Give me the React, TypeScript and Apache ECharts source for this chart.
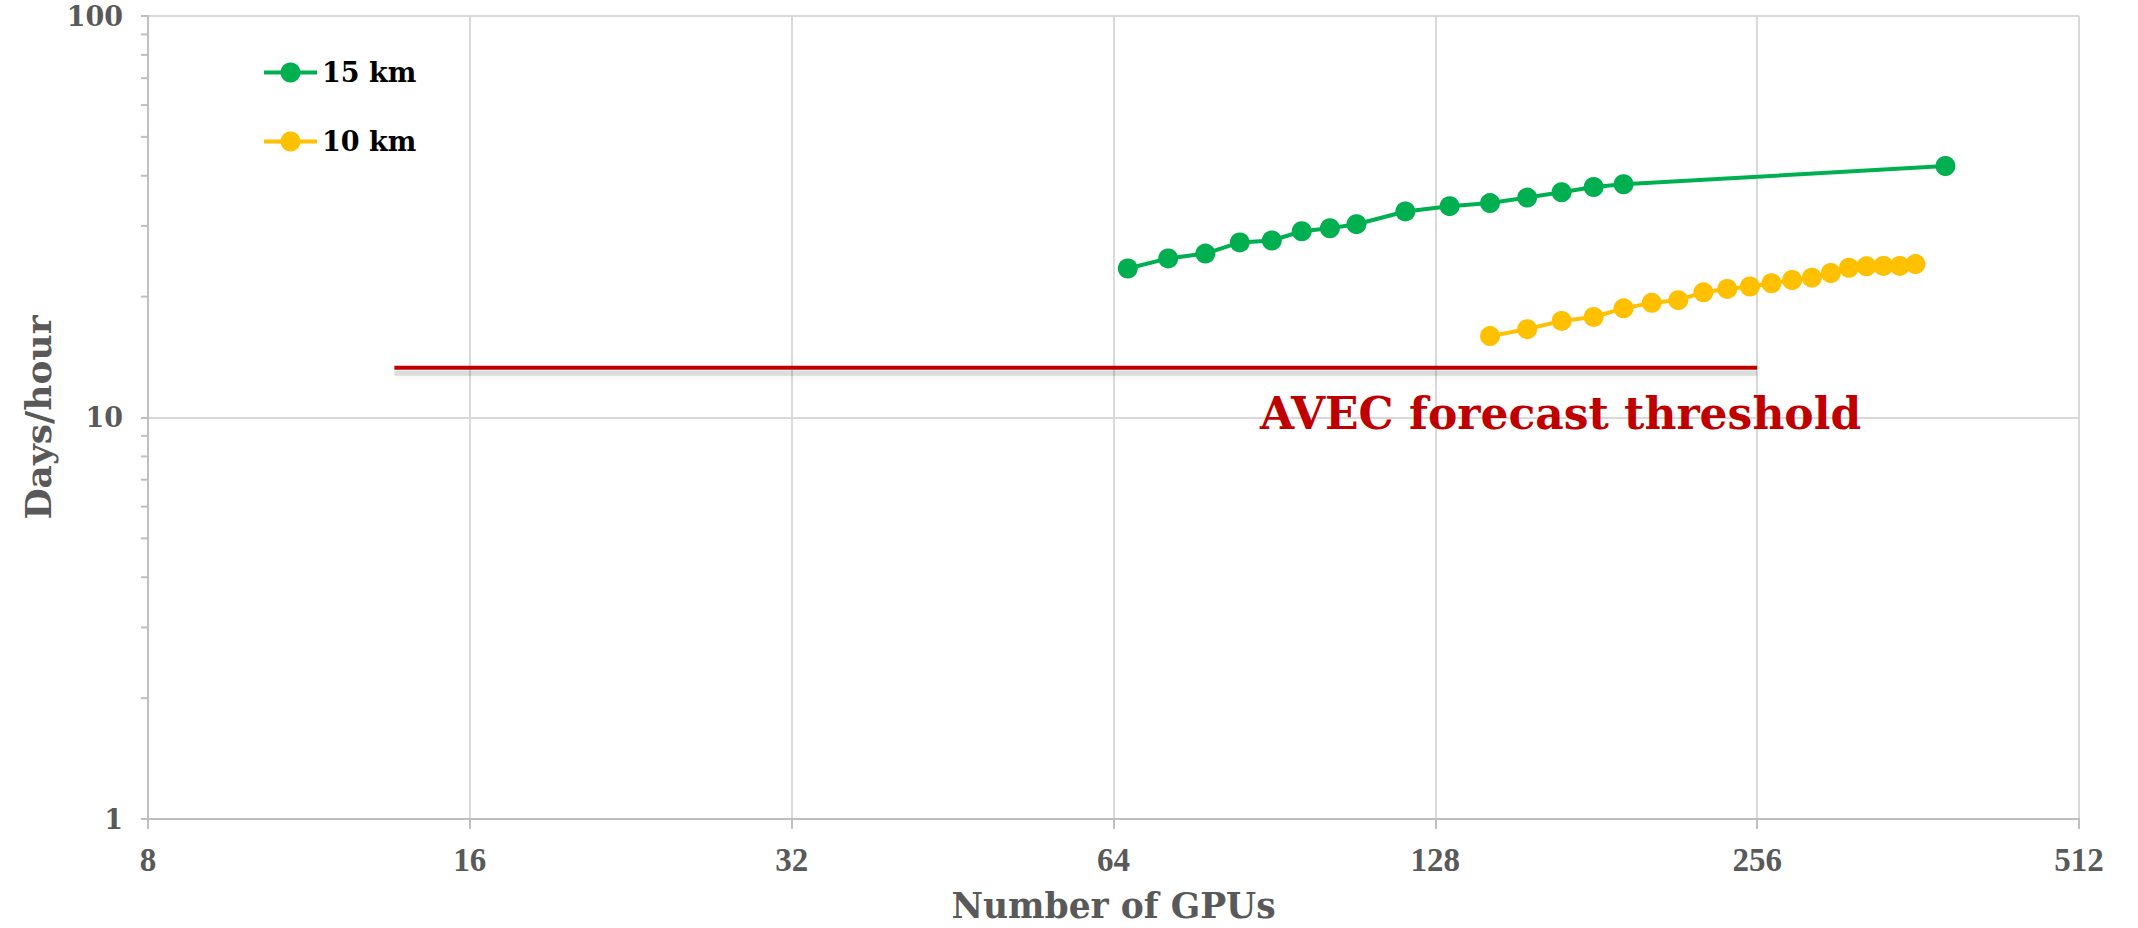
import React, { useEffect, useRef } from 'react';
import * as echarts from 'echarts';

const gpus15 = [66, 72, 78, 84, 90, 96, 102, 108, 120, 132, 144, 156, 168, 180, 192, 384];
const days15 = [23.5, 24.9, 25.6, 27.3, 27.6, 29.1, 29.6, 30.3, 32.6, 33.6, 34.2, 35.3, 36.4, 37.5, 38.1, 42.3];
const gpus10 = [144, 156, 168, 180, 192, 204, 216, 228, 240, 252, 264, 276, 288, 300, 312, 324, 336, 348, 360];
const days10 = [15.95, 16.6, 17.4, 17.8, 18.7, 19.3, 19.6, 20.5, 20.9, 21.2, 21.6, 22.0, 22.3, 22.9, 23.6, 23.8, 23.85, 23.85, 24.1];
const thresholdGpus = [13.6, 256];
const thresholdValue = 13.3;
const thresholdLabel = 'AVEC forecast threshold';
const minorTickValues = [2, 3, 4, 5, 6, 7, 8, 9, 20, 30, 40, 50, 60, 70, 80, 90];
const seriesNames = ['15 km', '10 km'];

const GEORGIA = '"DejaVu Serif", Georgia, serif';
const TIMES = '"Liberation Serif", "Times New Roman", serif';

export default function App() {
  const ref = useRef<HTMLDivElement>(null);
  useEffect(() => {
    if (!ref.current) return;
    const chart = echarts.init(ref.current, undefined, { renderer: 'svg' });
    const axisGray = '#BFBFBF';
    const gridGray = '#D9D9D9';
    const option: any = {
      animation: false,
      backgroundColor: '#FFFFFF',
      grid: { left: 148, right: 59, top: 16, bottom: 106, containLabel: false },
      legend: {
        orient: 'vertical',
        left: 257,
        top: 54,
        itemWidth: 53,
        itemHeight: 25,
        itemGap: 42,
        data: seriesNames,
        lineStyle: { width: 4 },
        textStyle: { fontFamily: GEORGIA, fontWeight: 'bold', fontSize: 27, color: '#000000' },
      },
      xAxis: {
        type: 'log',
        logBase: 2,
        min: 8,
        max: 512,
        splitNumber: 6,
        name: 'Number of GPUs',
        nameLocation: 'middle',
        nameGap: 69,
        nameTextStyle: { fontFamily: GEORGIA, fontWeight: 'bold', fontSize: 34.5, color: '#595959' },
        axisLine: { show: true, lineStyle: { color: axisGray, width: 2 } },
        axisTick: { show: true, length: 10, lineStyle: { color: axisGray, width: 2 } },
        splitLine: { show: true, lineStyle: { color: gridGray, width: 2 } },
        axisLabel: { fontFamily: TIMES, fontWeight: 'bold', fontSize: 33, color: '#595959', margin: 24 },
      },
      yAxis: {
        type: 'log',
        logBase: 10,
        min: 1,
        max: 100,
        name: 'Days/hour',
        nameLocation: 'middle',
        nameGap: 91,
        nameTextStyle: { fontFamily: GEORGIA, fontWeight: 'bold', fontSize: 36, color: '#595959' },
        axisLine: { show: true, lineStyle: { color: axisGray, width: 2 } },
        axisTick: { show: true, length: 7, lineStyle: { color: axisGray, width: 2 } },
        splitLine: { show: true, lineStyle: { color: gridGray, width: 2 } },
        axisLabel: { fontFamily: GEORGIA, fontWeight: 'bold', fontSize: 27, color: '#595959', margin: 25 },
      },
      graphic: [
        {
          type: 'text',
          x: 1260,
          y: 413,
          silent: true,
          z: 10,
          style: {
            text: thresholdLabel,
            fill: '#C00000',
            fontFamily: GEORGIA,
            fontWeight: 'bold',
            fontSize: 44,
            textAlign: 'left',
            textVerticalAlign: 'middle',
            verticalAlign: 'middle',
          },
        },
      ],
      series: [
        {
          name: 'minor',
          type: 'custom',
          silent: true,
          clip: false,
          data: minorTickValues.map((v) => [8, v]),
          renderItem: (params: any, api: any) => {
            const p = api.coord([api.value(0), api.value(1)]);
            return {
              type: 'line',
              shape: { x1: p[0] - 7, y1: p[1], x2: p[0], y2: p[1] },
              style: { stroke: axisGray, lineWidth: 2 },
            };
          },
        },
        {
          name: 'threshold',
          type: 'custom',
          silent: true,
          clip: false,
          z: 2,
          data: [[thresholdGpus[0], thresholdValue, thresholdGpus[1]]],
          renderItem: (params: any, api: any) => {
            const p1 = api.coord([api.value(0), api.value(1)]);
            const p2 = api.coord([api.value(2), api.value(1)]);
            return {
              type: 'group',
              children: [
                {
                  type: 'rect',
                  shape: { x: p1[0], y: p1[1] + 3, width: p2[0] - p1[0], height: 5 },
                  style: { fill: 'rgba(0,0,0,0.12)', shadowColor: 'rgba(0,0,0,0.35)', shadowBlur: 6, shadowOffsetY: 2 },
                },
                {
                  type: 'rect',
                  shape: { x: p1[0], y: p1[1] - 2, width: p2[0] - p1[0], height: 4 },
                  style: { fill: '#C00000' },
                },
              ],
            };
          },
        },
        {
          name: seriesNames[0],
          type: 'line',
          symbol: 'circle',
          symbolSize: 20,
          data: gpus15.map((g, i) => [g, days15[i]]),
          itemStyle: { color: '#00B050' },
          lineStyle: { color: '#00B050', width: 4 },
          z: 3,
        },
        {
          name: seriesNames[1],
          type: 'line',
          symbol: 'circle',
          symbolSize: 20,
          data: gpus10.map((g, i) => [g, days10[i]]),
          itemStyle: { color: '#FFC000' },
          lineStyle: { color: '#FFC000', width: 4 },
          z: 3,
        },
      ],
    };
    chart.setOption(option);
    return () => chart.dispose();
  }, []);
  return (
    <div
      ref={ref}
      style={{ position: 'absolute', left: 0, top: 0, width: '2138px', height: '928px' }}
    />
  );
}
